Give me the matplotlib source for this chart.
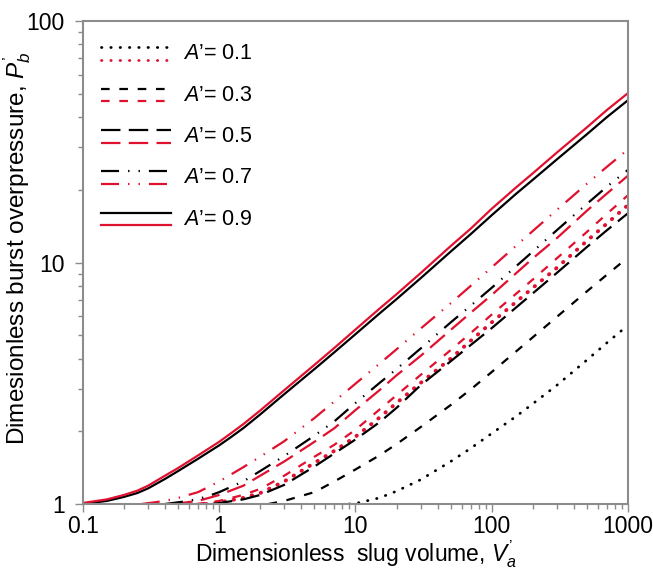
import matplotlib
matplotlib.use("Agg")
import matplotlib.pyplot as plt
from matplotlib.ticker import LogLocator, FuncFormatter, NullFormatter

plt.rcParams["font.family"] = ["Liberation Sans", "DejaVu Sans"]
plt.rcParams["mathtext.fontset"] = "custom"
plt.rcParams["mathtext.rm"] = "Liberation Sans"
plt.rcParams["mathtext.it"] = "Liberation Sans:italic"
plt.rcParams["lines.scale_dashes"] = False

# ================== DATA ==================
A_VALUES = [0.1, 0.3, 0.5, 0.7, 0.9]

# black curves
V_BLACK_01 = [9, 10, 15, 20, 30, 50, 70, 100, 150, 200, 300, 500, 700, 1000]
P_BLACK_01 = [1.00, 1.005, 1.06, 1.13, 1.26, 1.50, 1.70, 1.96, 2.30, 2.60, 3.10, 3.95, 4.65, 5.5]

V_BLACK_03 = [2.3, 3, 5, 7, 10, 15, 20, 30, 50, 70, 100, 200, 300, 500, 700, 1000]
P_BLACK_03 = [1.00, 1.03, 1.12, 1.24, 1.39, 1.59, 1.77, 2.08, 2.57, 2.98, 3.52, 4.90, 5.95, 7.6, 8.9, 10.5]

V_BLACK_05 = [0.9, 1.5, 2, 3, 5, 7, 10, 15, 20, 30, 50, 70, 100, 200, 300, 500, 700, 1000]
P_BLACK_05 = [1.00, 1.045, 1.09, 1.20, 1.43, 1.62, 1.85, 2.18, 2.50, 3.10, 3.90, 4.55, 5.35, 7.45, 9.05, 11.6, 13.6, 16.0]

V_BLACK_07 = [0.4, 0.6, 0.8, 1, 1.5, 2, 3, 5, 7, 10, 15, 20, 30, 50, 70, 100, 200, 300, 500, 700, 1000]
P_BLACK_07 = [1.00, 1.03, 1.07, 1.12, 1.24, 1.37, 1.58, 1.92, 2.20, 2.62, 3.17, 3.62, 4.40, 5.65, 6.62, 7.86, 11.1, 13.6, 17.5, 20.6, 24.2]

V_BLACK_09 = [0.1, 0.15, 0.2, 0.25, 0.3, 0.4, 0.5, 0.7, 1, 1.2, 1.5, 2, 3, 5, 7, 10, 15, 20, 30, 50, 70,
              100, 150, 200, 300, 500, 700, 1000]
P_BLACK_09 = [1.00, 1.03, 1.07, 1.11, 1.16, 1.27, 1.37, 1.54, 1.75, 1.88, 2.06, 2.35, 2.85, 3.62, 4.25,
              5.05, 6.15, 7.05, 8.6, 11.1, 13.1, 15.7, 19.2, 22.0, 26.7, 34.0, 40.0, 47.0]

# red curves
V_RED_01 = [0.8, 1, 1.5, 2, 3, 5, 7, 10, 15, 20, 30, 50, 70, 100, 200, 300, 500, 700, 1000]
P_RED_01 = [1.00, 1.015, 1.06, 1.11, 1.24, 1.48, 1.66, 1.90, 2.28, 2.62, 3.17, 4.0, 4.74, 5.65, 7.85, 9.5, 12.3, 14.5, 17.3]

V_RED_03 = [0.68, 1, 1.5, 2, 3, 5, 7, 10, 15, 20, 30, 50, 70, 100, 200, 300, 500, 700, 1000]
P_RED_03 = [1.00, 1.03, 1.09, 1.155, 1.31, 1.57, 1.76, 2.03, 2.46, 2.82, 3.42, 4.34, 5.1, 6.09, 8.5, 10.4, 13.4, 15.9, 19.0]

V_RED_05 = [0.46, 0.7, 1, 1.5, 2, 3, 5, 7, 10, 15, 20, 30, 50, 70, 100, 200, 300, 500, 700, 1000]
P_RED_05 = [1.00, 1.03, 1.09, 1.19, 1.31, 1.50, 1.81, 2.06, 2.45, 2.96, 3.41, 4.10, 5.26, 6.19, 7.34, 10.4, 12.6, 16.4, 19.3, 22.9]

V_RED_07 = [0.27, 0.4, 0.5, 0.7, 1, 1.5, 2, 3, 5, 7, 10, 15, 20, 30, 50, 70, 100, 200, 300, 500, 700, 1000]
P_RED_07 = [1.00, 1.03, 1.06, 1.12, 1.24, 1.42, 1.57, 1.82, 2.27, 2.66, 3.15, 3.81, 4.37, 5.32, 6.78, 8.0, 9.55, 13.5, 16.5, 21.2, 24.9, 29.4]

V_RED_09 = V_BLACK_09
P_RED_09 = [1.01, 1.045, 1.09, 1.135, 1.19, 1.31, 1.41, 1.59, 1.81, 1.95, 2.14, 2.44, 2.96, 3.77, 4.43,
            5.28, 6.44, 7.39, 9.03, 11.7, 13.8, 16.7, 20.4, 23.4, 28.5, 36.3, 42.8, 50.3]

BLACK_CURVES = [(V_BLACK_01, P_BLACK_01), (V_BLACK_03, P_BLACK_03), (V_BLACK_05, P_BLACK_05),
                (V_BLACK_07, P_BLACK_07), (V_BLACK_09, P_BLACK_09)]
RED_CURVES = [(V_RED_01, P_RED_01), (V_RED_03, P_RED_03), (V_RED_05, P_RED_05),
              (V_RED_07, P_RED_07), (V_RED_09, P_RED_09)]

# ================== STYLE ==================
RED = "#e0102f"
GRAY = "#8c8c8c"
FS_TICK = 16.5
FS_LABEL = 16.5
FS_LEGEND = 15.5
LW = 1.6

# dash patterns in points (scale_dashes off)
DASHES = {
    0.1: (0, (0.3, 6.4)),
    0.3: (0, (6.2, 7.0)),
    0.5: (0, (14, 6)),
    0.7: (0, (13, 6.5, 1, 6.5, 1, 6.5)),
    0.9: "-",
}


def line_kw(a, color, legend=False):
    kw = dict(color=color, linestyle=DASHES[a], linewidth=LW)
    if a == 0.1:
        kw["dash_capstyle"] = "round"
        kw["linewidth"] = 2.8 if (color == RED and not legend) else 2.0
    return kw


# ================== PLOT ==================
fig = plt.figure(figsize=(6.53, 5.76), dpi=100)
ax = fig.add_axes([0.1271, 0.125, 0.8346, 0.8385])

for a, (vb, pb), (vr, pr) in zip(A_VALUES, BLACK_CURVES, RED_CURVES):
    ax.plot(vb, pb, **line_kw(a, "black"))
    ax.plot(vr, pr, **line_kw(a, RED))

ax.set_xscale("log")
ax.set_yscale("log")
ax.set_xlim(0.1, 1000)
ax.set_ylim(1, 100)

fmt = FuncFormatter(lambda v, pos: f"{v:g}")
for axis in (ax.xaxis, ax.yaxis):
    axis.set_major_locator(LogLocator(base=10))
    axis.set_minor_locator(LogLocator(base=10, subs=range(2, 10)))
    axis.set_major_formatter(fmt)
    axis.set_minor_formatter(NullFormatter())

ax.tick_params(which="both", direction="out", color=GRAY, width=1.0,
               labelsize=FS_TICK, top=False, right=False)
ax.tick_params(which="major", length=6)
ax.tick_params(which="minor", length=3.5)
ax.tick_params(axis="y", which="both", pad=7)
ax.tick_params(axis="x", which="both", pad=2)

for sp in ax.spines.values():
    sp.set_color(GRAY)
    sp.set_linewidth(1.5)

ax.set_xlabel("Dimensionless  slug volume, $V_a^{’}$", fontsize=FS_LABEL, labelpad=0)
ax.set_ylabel("Dimesionless burst overpressure, $P_b^{’}$", fontsize=FS_LABEL + 1)
ax.yaxis.set_label_coords(-0.092, 0.53)

# hand-drawn legend: black sample above red sample for each A'
x0, x1, xt = 0.0325, 0.161, 0.184
to_frac = lambda y: (504 - y) / 483
for i, a in enumerate(A_VALUES):
    yb = 47.3 + 41.35 * i
    yr = yb + 12.7
    yt = yb + 6.5
    ax.plot([x0, x1], [to_frac(yb)] * 2, transform=ax.transAxes, clip_on=False,
            **line_kw(a, "black", legend=True))
    ax.plot([x0, x1], [to_frac(yr)] * 2, transform=ax.transAxes, clip_on=False,
            **line_kw(a, RED, legend=True))
    ax.text(xt, to_frac(yt), f"$A$’= {a:g}", transform=ax.transAxes,
            fontsize=FS_LEGEND, va="center", ha="left")

fig.savefig("out.png", dpi=100)
